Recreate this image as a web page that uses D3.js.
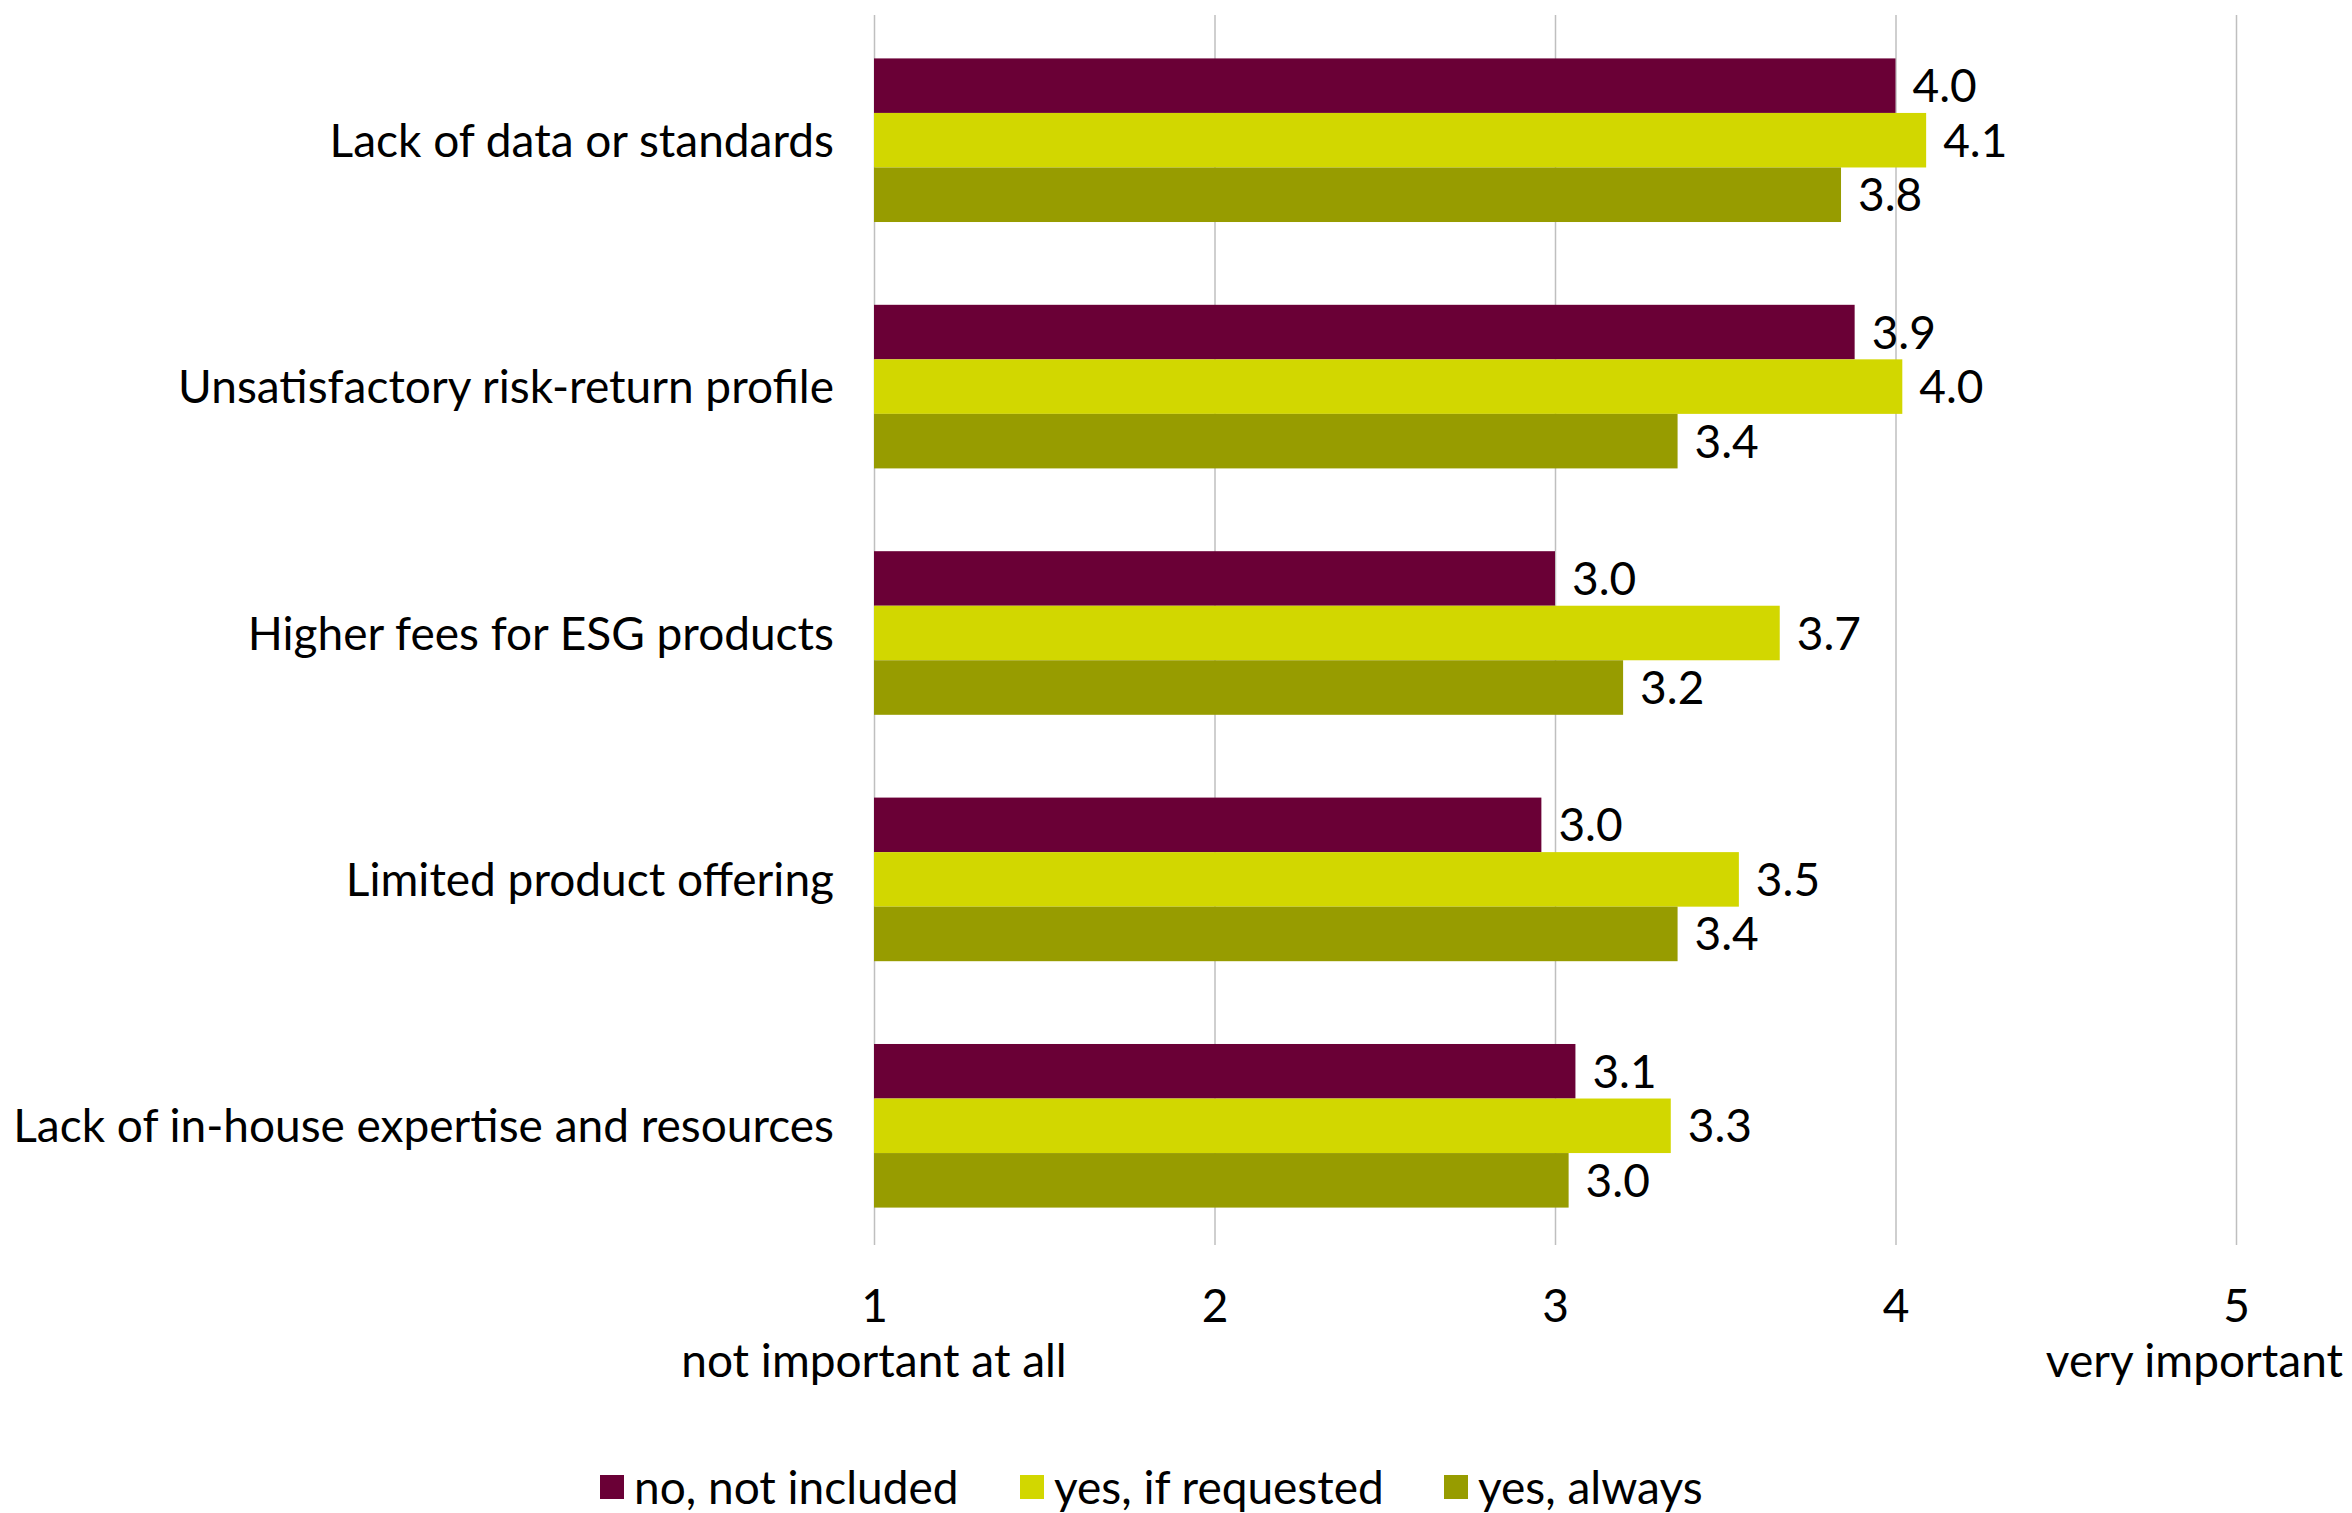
<!DOCTYPE html>
<html>
<head>
<meta charset="utf-8">
<script src="https://cdn.jsdelivr.net/npm/d3@7"></script>
<style>
  body { margin: 0; background: #fff; }
  svg text { font-family: Lato, "Open Sans", sans-serif; fill: #000; }
</style>
</head>
<body>
<div id="chart"></div>
<script>
// categories (top to bottom)
const categories = [
  "Lack of data or standards",
  "Unsatisfactory risk-return profile",
  "Higher fees for ESG products",
  "Limited product offering",
  "Lack of in-house expertise and resources"
];
const seriesNames = ["no, not included", "yes, if requested", "yes, always"];
const seriesColors = ["#6A0036", "#D2D700", "#979C00"];

// values (per category)
const notIncluded = [4.00, 3.88, 3.00, 2.96, 3.06];
const ifRequested = [4.09, 4.02, 3.66, 3.54, 3.34];
const always      = [3.84, 3.36, 3.20, 3.36, 3.04];

const tickValues = [1, 2, 3, 4, 5];

const width = 2352;
const height = 1513;
const fontSize = "46px";

const svg = d3.select("#chart")
  .append("svg")
  .attr("width", width)
  .attr("height", height);

// scales
const xScale = d3.scaleLinear()
  .domain([1, 5])
  .range([874, 2236]);

const yScale = d3.scaleBand()
  .domain(categories)
  .range([18, 1248])
  .paddingInner(0.336)
  .paddingOuter(0.164);

const ySub = d3.scaleBand()
  .domain(seriesNames)
  .range([0, yScale.bandwidth()]);

const rows = categories.map((c, i) => ({
  label: c,
  values: [notIncluded[i], ifRequested[i], always[i]]
}));

// gridlines + tick labels
const xAxis = svg.append("g")
  .attr("transform", "translate(0, 1245)")
  .call(d3.axisBottom(xScale)
    .tickValues(tickValues)
    .tickSize(-1230)
    .tickPadding(44)
    .tickFormat(d3.format("d")));
xAxis.select(".domain").remove();
xAxis.selectAll("line").attr("stroke", "#BFBFBF").attr("stroke-width", 1.5);
xAxis.selectAll("text")
  .style("font-size", fontSize)
  .style("font-family", "Lato, sans-serif")
  .attr("fill", "#000");

// scale end captions
svg.append("text")
  .attr("x", xScale(1))
  .attr("y", 1377)
  .attr("text-anchor", "middle")
  .style("font-size", fontSize)
  .text("not important at all");

svg.append("text")
  .attr("x", 2343)
  .attr("y", 1377)
  .attr("text-anchor", "end")
  .style("font-size", fontSize)
  .text("very important");

// bars
const groups = svg.selectAll(".group")
  .data(rows)
  .enter()
  .append("g")
  .attr("class", "group")
  .attr("transform", d => `translate(0, ${yScale(d.label)})`);

groups.selectAll("rect")
  .data(d => d.values.map((v, j) => ({ v, s: seriesNames[j], color: seriesColors[j] })))
  .enter()
  .append("rect")
  .attr("x", xScale(1))
  .attr("y", d => ySub(d.s))
  .attr("width", d => xScale(d.v) - xScale(1))
  .attr("height", ySub.bandwidth())
  .attr("fill", d => d.color);

// value labels
groups.selectAll(".label")
  .data(d => d.values.map((v, j) => ({ v, s: seriesNames[j] })))
  .enter()
  .append("text")
  .attr("class", "label")
  .attr("x", d => xScale(d.v) + 17)
  .attr("y", d => ySub(d.s) + ySub.bandwidth() / 2)
  .attr("dy", "0.36em")
  .style("font-size", fontSize)
  .text(d => d.v.toFixed(1));

// category labels
svg.selectAll(".cat")
  .data(categories)
  .enter()
  .append("text")
  .attr("class", "cat")
  .attr("x", 834)
  .attr("y", d => yScale(d) + yScale.bandwidth() / 2)
  .attr("dy", "0.36em")
  .attr("text-anchor", "end")
  .style("font-size", fontSize)
  .text(d => d);

// legend
const legendX = [600, 1020, 1444];
const legend = svg.selectAll(".legend")
  .data(seriesNames)
  .enter()
  .append("g")
  .attr("class", "legend")
  .attr("transform", (d, i) => `translate(${legendX[i]}, 1487)`);

legend.append("rect")
  .attr("x", 0)
  .attr("y", -12)
  .attr("width", 24)
  .attr("height", 24)
  .attr("fill", (d, i) => seriesColors[i]);

legend.append("text")
  .attr("x", 34)
  .attr("y", 0)
  .attr("dy", "0.36em")
  .style("font-size", fontSize)
  .text(d => d);
</script>
</body>
</html>
